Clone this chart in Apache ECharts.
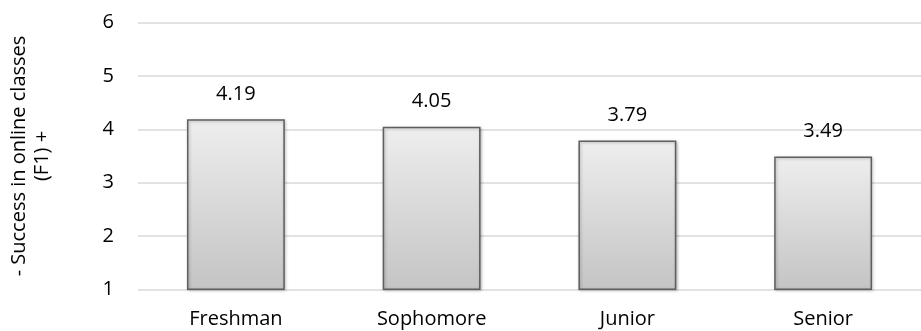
<!DOCTYPE html>
<html>
<head>
<meta charset="utf-8">
<script src="https://cdn.jsdelivr.net/npm/echarts@6/dist/echarts.min.js"></script>
<style>
html,body{margin:0;padding:0;background:#fff;}
#c{width:921px;height:331px;}
</style>
</head>
<body>
<div id="c"></div>
<script>
var categories = ["Freshman", "Sophomore", "Junior", "Senior"];
var values = [4.19, 4.05, 3.79, 3.49];
var yTicks = [1, 2, 3, 4, 5, 6];
var yTitle = "- Success in online classes\n(F1) +";

var FONT = "Open Sans";
var chart = echarts.init(document.getElementById('c'), null, {renderer: 'canvas'});
chart.setOption({
  animation: false,
  textStyle: {fontFamily: FONT},
  grid: {left: 132, right: 0, top: 22.7, bottom: 41.7, containLabel: false},
  xAxis: {
    type: 'category',
    data: categories,
    axisLine: {show: false},
    axisTick: {show: false},
    axisLabel: {color: '#000', fontSize: 20, fontFamily: FONT, margin: 20}
  },
  yAxis: {
    type: 'value',
    min: yTicks[0],
    max: yTicks[yTicks.length - 1],
    interval: 1,
    axisLine: {show: false},
    axisTick: {show: false},
    splitLine: {lineStyle: {color: '#d9d9d9', width: 1.5}},
    axisLabel: {color: '#000', fontSize: 20, fontFamily: FONT, margin: 24},
    name: yTitle,
    nameLocation: 'middle',
    nameRotate: 90,
    nameGap: 84,
    nameTextStyle: {color: '#000', fontSize: 20, fontFamily: FONT, lineHeight: 23}
  },
  series: [{
    type: 'bar',
    data: values,
    barWidth: '50%',
    itemStyle: {
      color: new echarts.graphic.LinearGradient(0, 0, 0, 1, [
        {offset: 0, color: '#eeeeee'},
        {offset: 1, color: '#c4c4c4'}
      ]),
      borderColor: '#5f5f5f',
      borderWidth: 1.5,
      shadowColor: 'rgba(0,0,0,0.25)',
      shadowBlur: 3,
      shadowOffsetX: 1,
      shadowOffsetY: 1
    },
    label: {
      show: true,
      position: 'top',
      distance: 15,
      color: '#000',
      fontSize: 20,
      fontFamily: FONT,
      formatter: function (p) { return p.value.toFixed(2); }
    }
  }]
});
</script>
</body>
</html>
